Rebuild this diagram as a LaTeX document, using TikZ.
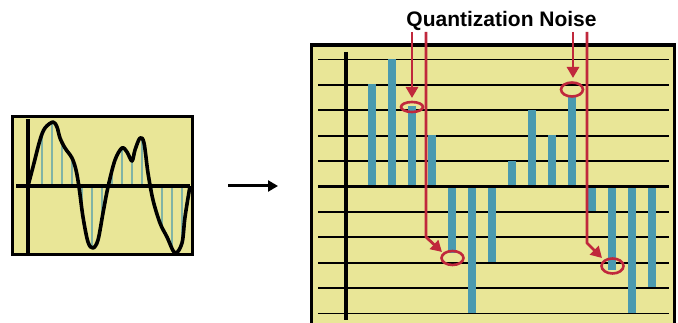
\documentclass[tikz,border=0pt]{standalone}
\usepackage{fontspec}
\setmainfont{Liberation Sans}
\usetikzlibrary{arrows.meta,intersections,shapes.geometric}
\definecolor{pad}{RGB}{233,230,151}
\definecolor{bar}{RGB}{74,154,175}
\definecolor{noise}{RGB}{192,40,60}
\tikzset{
  panel/.style={draw=black,line width=3.5pt,fill=pad},
  grid line/.style={draw=black,line width=1.8pt},
  axis line/.style={draw=black,line width=3.5pt},
  sample/.style={draw=bar,line width=1.4pt},
  ring/.style={draw=noise,line width=2.6pt,ellipse,inner sep=0pt},
  noisearrow/.style={draw=noise,line width=2.8pt,-{Triangle[length=11pt,width=12pt]}},
  mainarrow/.style={draw=black,line width=3pt,-{Triangle[length=10pt,width=11pt]}},
  title/.style={font=\bfseries\fontsize{21}{21}\selectfont,anchor=base,inner sep=0pt}
}
\begin{document}
\begin{tikzpicture}[x=1pt,y=-1pt]
\useasboundingbox (0,0) rectangle (678,323);
% ---------- left panel ----------
\path[panel] (12.5,116.5) rectangle (192.5,254.5);
\path[name path=wave] plot[smooth,tension=0.55] coordinates {
 (28,186) (33,167) (40,140) (45,128) (53,122) (57,127) (60,138) (65,148)
 (72,158) (76,170) (79,187) (83,217) (88,242) (93,248) (98,240) (103,213)
 (108,187) (115,160) (122,148) (127,152) (132,161) (135,150) (140,138)
 (144,143) (148,173) (153,200) (160,223) (167,237) (175,253) (182,243)
 (185,217) (190,186)};
\foreach \sx in {42,52,...,182}{
  \path[name path=vl] (\sx,100) -- (\sx,270);
  \path[name intersections={of=wave and vl,by=sp}];
  \draw[sample] (\sx,186) -- (sp);
}
\draw[axis line] (16,186) -- (190,186);
\draw[axis line] (28,119) -- (28,253);
\draw[black,line width=3.6pt,line join=round] plot[smooth,tension=0.55] coordinates {
 (28,186) (33,167) (40,140) (45,128) (53,122) (57,127) (60,138) (65,148)
 (72,158) (76,170) (79,187) (83,217) (88,242) (93,248) (98,240) (103,213)
 (108,187) (115,160) (122,148) (127,152) (132,161) (135,150) (140,138)
 (144,143) (148,173) (153,200) (160,223) (167,237) (175,253) (182,243)
 (185,217) (190,186)};
% ---------- arrow between panels ----------
\coordinate (ma) at (228,186);
\coordinate (mb) at (278,186);
\draw[mainarrow] (ma) -- (mb);
% ---------- right panel ----------
\begin{scope}
\clip (0,0) rectangle (678,323);
\path[panel] (311.5,45) rectangle (674.5,340);
\foreach \gy in {59.5,84.9,110.3,135.7,161.1,211.9,237.3,262.7,288.1,313.5}{
  \draw[grid line] (318,\gy) -- (669,\gy);
}
\foreach \bx/\by in {372/84, 392/59, 412/106, 432/135, 452/253, 472/313, 492/262,
  512/161, 532/110, 552/135, 572/95, 592/211, 612/270, 632/313, 652/287}{
  \fill[bar] (\bx-3.8,186) rectangle (\bx+3.8,\by);
}
\draw[axis line] (318,186.5) -- (669,186.5);
\draw[axis line] (346,52) -- (346,320);
\end{scope}
% ---------- quantization noise ----------
\node[title] (t) at (501.5,27) {Quantization Noise};
\node[ring,minimum width=22pt,minimum height=10pt] (e1) at (412,107) {};
\node[ring,minimum width=22pt,minimum height=14pt] (e2) at (572,89.5) {};
\node[ring,minimum width=22pt,minimum height=14pt] (e3) at (452.5,258) {};
\node[ring,minimum width=22pt,minimum height=15pt] (e4) at (612.5,266) {};
\coordinate (a1s) at (412,32);
\coordinate (a1e) at (412,98);
\coordinate (a2s) at (426,32);
\coordinate (a2k) at (426,237);
\coordinate (a2e) at (442,252);
\coordinate (a3s) at (573,32);
\coordinate (a3e) at (573,78);
\coordinate (a4s) at (587,32);
\coordinate (a4k) at (587,243);
\coordinate (a4e) at (602,258);
\draw[noisearrow] (a1s) -- (a1e);
\draw[noisearrow,line join=round] (a2s) -- (a2k) -- (a2e);
\draw[noisearrow] (a3s) -- (a3e);
\draw[noisearrow,line join=round] (a4s) -- (a4k) -- (a4e);
\end{tikzpicture}
\end{document}
